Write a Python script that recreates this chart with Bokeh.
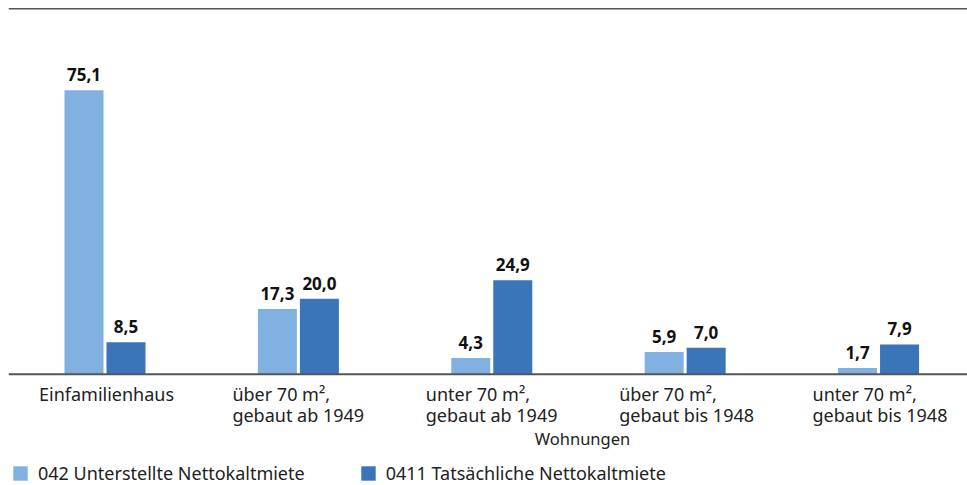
from bokeh.plotting import figure
from bokeh.models import ColumnDataSource, Range1d, FixedTicker, Span, Legend, LegendItem, Label
from bokeh.transform import dodge
from bokeh.core.properties import value
from bokeh.embed import file_html
from bokeh.resources import INLINE

# ---- data ----
categories = [
    "Einfamilienhaus",
    "über 70 m²,\ngebaut ab 1949",
    "unter 70 m²,\ngebaut ab 1949",
    "über 70 m²,\ngebaut bis 1948",
    "unter 70 m²,\ngebaut bis 1948",
]
series_names = ["042 Unterstellte Nettokaltmiete", "0411 Tatsächliche Nettokaltmiete"]
unterstellt = [75.1, 17.3, 4.3, 5.9, 1.7]
tatsaechlich = [8.5, 20.0, 24.9, 7.0, 7.9]
grid_ticks = [20, 40, 60, 80]
axis_title = "Wohnungen"

def fmt(v):
    return f"{v:.1f}".replace(".", ",")

FONT = "Noto Sans"
LIGHT = "#80B1E0"
DARK = "#3A75BA"

idx = list(range(len(categories)))
src = ColumnDataSource(dict(
    x=idx,
    cat=categories,
    a=unterstellt,
    b=tatsaechlich,
    la=[fmt(v) for v in unterstellt],
    lb=[fmt(v) for v in tatsaechlich],
    zero=[0] * len(idx),
))

p = figure(width=967, height=485, output_backend="svg", toolbar_location=None,
           x_range=Range1d(-0.499, 4.46), y_range=Range1d(-29.4, 97.0),
           x_axis_type=None, y_axis_type=None,
           min_border_left=8, min_border_right=0, min_border_top=7, min_border_bottom=0)
p.outline_line_color = None
p.xgrid.visible = False
p.ygrid.ticker = FixedTicker(ticks=grid_ticks)
p.ygrid.grid_line_color = "#ababab"
p.ygrid.grid_line_width = 1.3

bw = 0.2017
off = 0.1086
ra = p.vbar(x=dodge("x", -off), top="a", width=bw, source=src, color=LIGHT, line_color=None)
rb = p.vbar(x=dodge("x", off), top="b", width=bw, source=src, color=DARK, line_color=None)

p.add_layout(Span(location=0, dimension="width", line_color="#555555", line_width=2))
p.add_layout(Span(location=96.7, dimension="width", line_color="#555555", line_width=1.5))

for col, lab, dx in (("a", "la", -off), ("b", "lb", off)):
    p.text(x=dodge("x", dx), y=col, text=lab, source=src,
           text_font=value(FONT), text_font_size="17px", text_font_style="bold",
           text_align="center", text_baseline="bottom", y_offset=-9, text_color="#111111")

p.text(x="x", y="zero", text="cat", source=src, text_font=value(FONT),
       text_font_size="18px", text_align="left", text_baseline="top",
       x_offset=-66, y_offset=8, text_line_height=0.88, text_color="#222222")

p.add_layout(Label(x=2.469, y=-16.9, text=axis_title, text_font=FONT, text_font_size="16.5px",
                   text_align="center", text_baseline="middle", text_color="#222222"))

legend = Legend(items=[LegendItem(label=series_names[0], renderers=[ra]),
                       LegendItem(label=series_names[1], renderers=[rb])],
                orientation="horizontal", location=(3, 0), padding=0, margin=0,
                glyph_width=18, glyph_height=18, label_standoff=9, spacing=54,
                label_height=18,
                label_text_font=FONT, label_text_font_size="18px", label_text_color="#222222",
                border_line_color=None, background_fill_alpha=0)
p.add_layout(legend)

open("out.html", "w").write(file_html(p, INLINE))
